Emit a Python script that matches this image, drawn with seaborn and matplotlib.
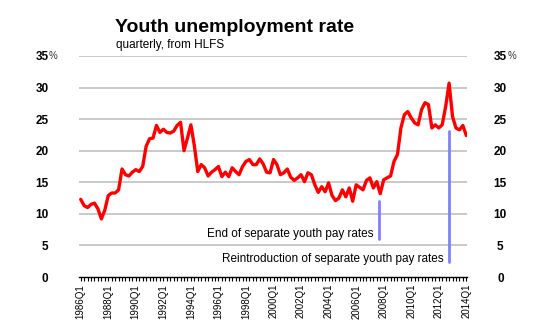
import numpy as np
import pandas as pd
import matplotlib
matplotlib.use("Agg")
import matplotlib.pyplot as plt
import seaborn as sns

# ---- data ----
start_year = 1986
rate = [12.3, 11.3, 11.0, 11.5, 11.7, 10.8, 9.2, 10.6, 12.9, 13.3, 13.3, 13.8,
        17.1, 16.2, 16.0, 16.6, 17.0, 16.7, 17.5, 20.7, 21.9, 22.0, 24.0, 22.9,
        23.4, 22.9, 22.8, 23.1, 24.0, 24.5, 20.0, 22.0, 24.1, 20.8, 16.7, 17.8,
        17.3, 16.0, 16.6, 17.0, 17.5, 15.9, 16.6, 15.9, 17.3, 16.7, 16.2, 17.5,
        18.3, 18.6, 17.8, 17.8, 18.7, 17.9, 16.6, 16.5, 18.6, 17.8, 16.2, 16.5,
        17.1, 15.8, 15.3, 15.7, 16.2, 15.1, 16.5, 16.2, 14.6, 13.4, 14.3, 13.5,
        14.9, 12.9, 12.1, 12.5, 13.8, 12.7, 14.1, 12.0, 14.6, 14.2, 13.8, 15.3,
        15.7, 14.1, 15.1, 13.2, 15.4, 15.7, 16.0, 18.3, 19.4, 23.6, 25.7, 26.2,
        25.2, 24.4, 24.1, 26.5, 27.6, 27.3, 23.6, 24.1, 23.6, 24.1, 27.0, 30.7,
        25.4, 23.6, 23.3, 24.0, 22.4]
quarters = [f"{start_year + i // 4}Q{i % 4 + 1}" for i in range(len(rate))]
tick_labels = [q for q in quarters if q.endswith("Q1") and int(q[:4]) % 2 == 0]
y_ticks = [0, 5, 10, 15, 20, 25, 30, 35]

# event markers: (quarter position, top value, bottom value, label, label value)
event_pos = [86.75, 107.0]
event_top = [12.0, 23.1]
event_bottom = [6.0, 2.3]
event_text = ["End of separate youth pay rates",
              "Reintroduction of separate youth pay rates"]
event_text_y = [6.75, 2.85]

df = pd.DataFrame({"idx": np.arange(len(rate)), "quarter": quarters, "rate": rate})

# ---- style ----
sns.set_style("white")
plt.rcParams["font.family"] = ["Liberation Sans", "DejaVu Sans"]
plt.rcParams["text.color"] = "black"
plt.rcParams["xtick.color"] = "black"
plt.rcParams["ytick.color"] = "black"
plt.rcParams["xtick.labelcolor"] = "black"
plt.rcParams["ytick.labelcolor"] = "black"

fig = plt.figure(figsize=(5.5, 3.25), dpi=100)
ax = fig.add_axes([79 / 550, 1 - 277 / 325, (467 - 79) / 550, (277 - 56) / 325])

for y in y_ticks[1:]:
    ax.axhline(y, color="#c0c0c0", lw=1.2, zorder=0)

sns.lineplot(data=df, x="idx", y="rate", ax=ax, color="#ff0000", linewidth=2.4, zorder=3)

for xp, yt, yb, txt, ty in zip(event_pos, event_top, event_bottom, event_text, event_text_y):
    ax.plot([xp, xp], [yb, yt], color="#8080ff", lw=2.0, zorder=4)
    ax.text(xp - 1.6, ty, txt, ha="right", va="center", fontsize=8.5, color="black")

ax.set_xlim(-0.5, 112.2)
ax.set_ylim(0, 35)
ax.set_xlabel("")
ax.set_ylabel("")

major = [quarters.index(t) for t in tick_labels]
ax.set_xticks(major)
ax.set_xticklabels(tick_labels, rotation=90, fontsize=7)
ax.set_xticks(np.arange(len(rate)), minor=True)
ax.tick_params(axis="x", which="both", direction="out", length=3, width=0.8,
               color="black", bottom=True, pad=2)

ax.set_yticks(y_ticks)
ax.set_yticklabels([str(v) for v in y_ticks], fontsize=8.5, fontweight="bold")
ax.tick_params(axis="y", length=0, pad=22)

for s in ["top", "left", "right"]:
    ax.spines[s].set_visible(False)
ax.spines["bottom"].set_color("black")
ax.spines["bottom"].set_linewidth(1.0)
ax.grid(False)

ax2 = ax.twinx()
ax2.set_ylim(0, 35)
ax2.set_yticks(y_ticks)
ax2.set_yticklabels([str(v) for v in y_ticks], fontsize=8.5, fontweight="bold")
for lbl in ax2.get_yticklabels():
    lbl.set_horizontalalignment("center")
ax2.tick_params(axis="y", length=0, pad=24)
for s in ax2.spines.values():
    s.set_visible(False)
ax2.grid(False)

# percent signs next to the top labels
fig.text(49 / 550, 1 - 56 / 325, "%", fontsize=7, ha="left", va="center", color="#333333")
fig.text(508 / 550, 1 - 56 / 325, "%", fontsize=7, ha="left", va="center", color="#333333")

fig.text(115 / 550, 1 - 32 / 325, "Youth unemployment rate", fontsize=14,
         fontweight="bold", ha="left", va="baseline")
fig.text(116 / 550, 1 - 48 / 325, "quarterly, from HLFS", fontsize=8.5,
         ha="left", va="baseline")

fig.savefig("out.png", dpi=100)
